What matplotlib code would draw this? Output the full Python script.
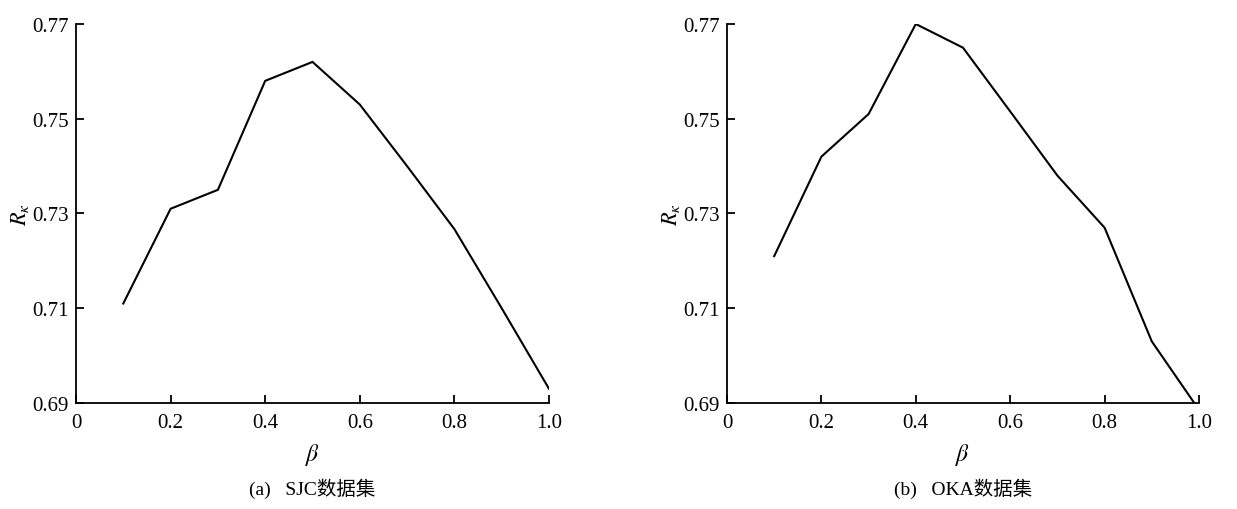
import matplotlib
matplotlib.use("Agg")
import matplotlib.pyplot as plt

beta = [0.1, 0.2, 0.3, 0.4, 0.5, 0.6, 0.7, 0.8, 0.9, 1.0]
beta_oka = [0.1, 0.2, 0.3, 0.4, 0.5, 0.607, 0.7, 0.8, 0.9, 0.99]
sjc = [0.711, 0.731, 0.735, 0.758, 0.762, 0.753, 0.740, 0.7267, 0.7100, 0.693]
oka = [0.721, 0.742, 0.751, 0.770, 0.765, 0.7506, 0.738, 0.727, 0.703, 0.690]
xticks = [0, 0.2, 0.4, 0.6, 0.8, 1.0]
xticklabels = ["0", "0.2", "0.4", "0.6", "0.8", "1.0"]
yticks = [0.69, 0.71, 0.73, 0.75, 0.77]
yticklabels = ["0.69", "0.71", "0.73", "0.75", "0.77"]
captions = ["(a)   SJC数据集", "(b)   OKA数据集"]

plt.rcParams['font.family'] = ['Liberation Serif', 'Noto Sans CJK SC']
plt.rcParams['mathtext.fontset'] = 'stix'

fig = plt.figure(figsize=(12.37, 5.10), dpi=100)
W, H = 1237, 510
axes_px = [(76, 549), (727, 1199)]
top_px, bot_px = 25, 404

for (x0, x1), xs, ys in zip(axes_px, [beta, beta_oka], [sjc, oka]):
    ax = fig.add_axes([x0 / W, 1 - bot_px / H, (x1 - x0) / W, (bot_px - top_px) / H])
    ax.plot(xs, ys, color='black', lw=1.5, solid_joinstyle='miter')
    ax.set_xlim(0, 1.0)
    ax.set_ylim(0.69, 0.77)
    ax.set_xticks(xticks)
    ax.set_xticklabels(xticklabels)
    ax.set_yticks(yticks)
    ax.set_yticklabels(yticklabels)
    for s in ['top', 'right']:
        ax.spines[s].set_visible(False)
    for s in ['left', 'bottom']:
        ax.spines[s].set_linewidth(1.3)
    ax.tick_params(direction='in', length=6, width=1.3, labelsize=15)
    ax.tick_params(axis='x', pad=7)
    ax.tick_params(axis='y', pad=5)
    ax.set_xlabel(r'$\beta$', fontsize=17, labelpad=7)
    ax.set_ylabel(r'$R_{\kappa}$', fontsize=16, labelpad=1)

for (x0, x1), cap in zip(axes_px, captions):
    fig.text((x0 + x1) / 2 / W, 1 - 489 / H, cap, ha='center', va='center',
             fontsize=14, family=['Liberation Serif', 'Noto Sans CJK SC'])

fig.savefig('out.png', dpi=100)
